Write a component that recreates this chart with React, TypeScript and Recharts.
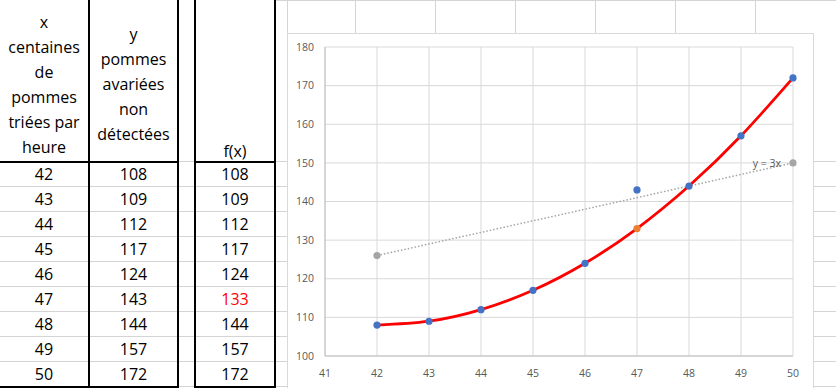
import React from 'react';
import {
  CartesianGrid,
  ComposedChart,
  LabelList,
  Line,
  Scatter,
  XAxis,
  YAxis,
} from 'recharts';

// table + chart data
const xValues = [42, 43, 44, 45, 46, 47, 48, 49, 50];
const yValues = [108, 109, 112, 117, 124, 143, 144, 157, 172];
const fValues = [108, 109, 112, 117, 124, 133, 144, 157, 172];
const lineX = [42, 50];
const lineY = [126, 150];
const lineLabel = 'y = 3x';
const xTicks = [41, 42, 43, 44, 45, 46, 47, 48, 49, 50];
const yTicks = [100, 110, 120, 130, 140, 150, 160, 170, 180];
const headerX = ['x', 'centaines', 'de', 'pommes', 'triées par', 'heure'];
const headerY = ['y', 'pommes', 'avariées', 'non', 'détectées'];
const headerF = ['f(x)'];

const fData = xValues.map((x, i) => ({ x, f: fValues[i] }));
const yData = xValues.map((x, i) => ({ x, y: yValues[i] }));
const changedData = xValues
  .map((x, i) => ({ x, f: fValues[i], changed: fValues[i] !== yValues[i] }))
  .filter((d) => d.changed);
const lineData = lineX.map((x, i) => ({ x, g: lineY[i] }));

const FONT = '"Open Sans", sans-serif';
const GRID = '#d4d4d4';

const dot = (color: string) => (p: any) =>
  <circle cx={p.cx} cy={p.cy} r={3.6} fill={color} />;

const eqLabel = (p: any) => {
  if (p.index !== lineData.length - 1) return null;
  return (
    <text x={p.x - 12} y={p.y + 4.5} textAnchor='end' fontSize={10.5} fill='#595959' fontFamily={FONT}>
      {lineLabel}
    </text>
  );
};

const Sheet: React.FC = () => {
  const cols = [
    { left: 0, width: 88 },
    { left: 90, width: 87 },
    { left: 196, width: 78 },
  ];
  const hLines: React.ReactNode[] = [];
  for (let j = 0; j < 9; j++) {
    const top = 186 + 25 * j;
    hLines.push(<div key={'h' + j} style={{ position: 'absolute', left: 0, width: 836, top, height: 1, background: GRID }} />);
  }
  hLines.push(<div key='h161' style={{ position: 'absolute', left: 178, width: 658, top: 161, height: 1, background: GRID }} />);
  hLines.push(<div key='htop' style={{ position: 'absolute', left: 276, width: 560, top: 0, height: 1, background: GRID }} />);
  const vLines = [287, 355, 435, 515, 595, 675, 755].map((x) => (
    <div key={'v' + x} style={{ position: 'absolute', left: x, top: 0, width: 1, height: 34, background: GRID }} />
  ));
  const thick = (k: string, left: number, top: number, width: number, height: number) => (
    <div key={k} style={{ position: 'absolute', left, top, width, height, background: '#000' }} />
  );
  const header = (lines: string[], c: { left: number; width: number }, bottom: boolean) => (
    <div
      style={{
        position: 'absolute', left: c.left, width: c.width, top: bottom ? 3 : 4, height: 161,
        display: 'flex', flexDirection: 'column', justifyContent: bottom ? 'flex-end' : 'center',
        alignItems: 'center', lineHeight: '25px',
      }}
    >
      {lines.map((l) => <div key={l}>{l}</div>)}
    </div>
  );
  const cell = (text: number, c: { left: number; width: number }, i: number, color = '#000') => (
    <div
      key={c.left + '-' + i}
      style={{
        position: 'absolute', left: c.left, width: c.width, top: 162 + 25 * i, height: 24,
        lineHeight: '24px', textAlign: 'center', color,
      }}
    >
      {text}
    </div>
  );
  return (
    <div style={{ position: 'absolute', inset: 0, fontFamily: FONT, fontSize: 16, color: '#000' }}>
      {hLines}
      {vLines}
      {header(headerX, cols[0], false)}
      {header(headerY, cols[1], false)}
      {header(headerF, cols[2], true)}
      {xValues.map((v, i) => cell(v, cols[0], i))}
      {yValues.map((v, i) => cell(v, cols[1], i))}
      {fValues.map((v, i) => cell(v, cols[2], i, v !== yValues[i] ? '#ff0000' : '#000'))}
      {thick('t1', 88, 0, 2, 388)}
      {thick('t2', 177, 0, 2, 388)}
      {thick('t3', 194, 0, 2, 388)}
      {thick('t4', 274, 0, 2, 388)}
      {thick('t5', 0, 161, 179, 2)}
      {thick('t6', 194, 161, 82, 2)}
      {thick('t7', 0, 386, 179, 2)}
      {thick('t8', 194, 386, 82, 2)}
    </div>
  );
};

const App: React.FC = () => {
  return (
    <div style={{ position: 'relative', width: 836, height: 388, overflow: 'hidden', background: '#fff' }}>
      <style>{'body{margin:0}'}</style>
      <Sheet />
      <div
        style={{
          position: 'absolute', left: 287, top: 33, width: 527, height: 360,
          border: '1px solid #d9d9d9', boxSizing: 'border-box', background: '#fff',
        }}
      >
        <ComposedChart width={525} height={354} margin={{ top: 13, right: 20, bottom: 0, left: 0 }}>
          <CartesianGrid stroke='#d9d9d9' />
          <XAxis
            dataKey='x'
            type='number'
            domain={[41, 50]}
            ticks={xTicks}
            allowDuplicatedCategory={false}
            height={32}
            tickLine={false}
            tickMargin={8}
            stroke='#bfbfbf'
            tick={{ fill: '#595959', fontSize: 10.5, fontFamily: FONT }}
          />
          <YAxis
            type='number'
            domain={[100, 180]}
            ticks={yTicks}
            width={37}
            tickLine={false}
            tickMargin={5}
            stroke='#bfbfbf'
            tick={{ fill: '#595959', fontSize: 10.5, fontFamily: FONT }}
          />
          <Line
            data={lineData}
            dataKey='g'
            type='linear'
            stroke='#a5a5a5'
            strokeWidth={1.5}
            strokeDasharray='1.5 2'
            dot={dot('#a5a5a5')}
            activeDot={false}
            isAnimationActive={false}
          >
            <LabelList dataKey='g' content={eqLabel} />
          </Line>
          <Line
            data={fData}
            dataKey='f'
            type='natural'
            stroke='#ff0000'
            strokeWidth={2.8}
            dot={false}
            activeDot={false}
            isAnimationActive={false}
          />
          <Scatter data={yData} dataKey='y' shape={dot('#4472c4')} isAnimationActive={false} />
          <Scatter data={changedData} dataKey='f' shape={dot('#ed7d31')} isAnimationActive={false} />
        </ComposedChart>
      </div>
    </div>
  );
};

export default App;
